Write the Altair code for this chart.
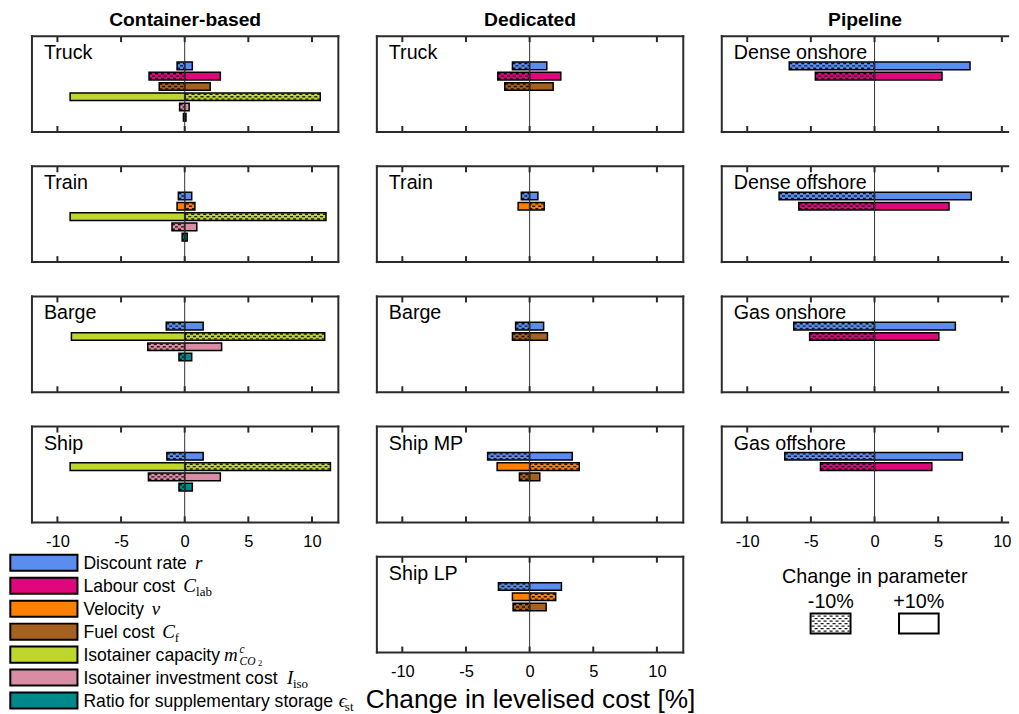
import altair as alt
import pandas as pd

# ---------------- data ----------------
PARAM_KEYS = ["r", "lab", "v", "f", "m", "iso", "eps"]
PARAM_NAMES = ["Discount rate", "Labour cost", "Velocity", "Fuel cost",
               "Isotainer capacity", "Isotainer investment cost",
               "Ratio for supplementary storage"]
PARAM_COLORS = ["#5B8DEF", "#E0077D", "#FF8000", "#A5611F", "#BFD62F", "#D98CA3", "#00898B"]

TICKS = [-10, -5, 0, 5, 10]
COLUMN_TITLES = ["Container-based", "Dedicated", "Pipeline"]
AXIS_TITLE = "Change in levelised cost [%]"

# Container-based  (minus = effect of -10% change, plus = effect of +10% change)
CB_LABELS = ["Truck", "Train", "Barge", "Ship"]
CB_PARAMS = [["r", "lab", "f", "m", "iso", "eps"],
             ["r", "v", "m", "iso", "eps"],
             ["r", "m", "iso", "eps"],
             ["r", "m", "iso", "eps"]]
CB_MINUS = [[-0.6, -2.8, -2.0, 10.65, -0.4, -0.1],
            [-0.5, 0.8, 11.1, -1.0, -0.2],
            [-1.45, 11.0, -2.9, -0.45],
            [-1.4, 11.45, -2.85, -0.45]]
CB_PLUS = [[0.6, 2.8, 2.0, -9.0, 0.35, 0.1],
           [0.55, -0.6, -9.0, 0.95, 0.2],
           [1.45, -8.9, 2.9, 0.55],
           [1.45, -9.0, 2.8, 0.6]]

# Dedicated
DE_LABELS = ["Truck", "Train", "Barge", "Ship MP", "Ship LP"]
DE_PARAMS = [["r", "lab", "f"], ["r", "v"], ["r", "f"], ["r", "v", "f"], ["r", "v", "f"]]
DE_MINUS = [[-1.35, -2.5, -1.95], [-0.65, 1.15], [-1.1, -1.35], [-3.3, 3.9, -0.8], [-2.45, 2.05, -1.3]]
DE_PLUS = [[1.35, 2.45, 1.85], [0.65, -0.9], [1.1, 1.4], [3.35, -2.55, 0.8], [2.5, -1.35, 1.3]]

# Pipeline
PL_LABELS = ["Dense onshore", "Dense offshore", "Gas onshore", "Gas offshore"]
PL_PARAMS = [["r", "lab"], ["r", "lab"], ["r", "lab"], ["r", "lab"]]
PL_MINUS = [[-6.7, -4.65], [-7.5, -5.95], [-6.35, -5.1], [-7.05, -4.25]]
PL_PLUS = [[7.5, 5.3], [7.6, 5.85], [6.35, 5.05], [6.9, 4.5]]

# legend math symbols (row, text, style)
SYM_ROW = [0, 1, 1, 2, 3, 3, 4, 4, 4, 4, 5, 5, 6, 6]
SYM_TEXT = ["r", "C", "lab", "v", "C", "f", "m", "c", "CO", "2", "I", "iso", "\u03f5", "st"]
SYM_STYLE = ["it", "it", "sub", "it", "it", "sub", "it", "sup", "subit", "subsub", "it", "sub", "it", "sub"]

CHANGE_TITLE = "Change in parameter"
CHANGE_LABELS = ["-10%", "+10%"]

# ---------------- layout ----------------
FONT = "Liberation Sans"
SERIF = "Liberation Serif"
PANEL_H = 96
COL_DOMAIN = [[-12, 12.07], [-12, 12.07], [-12, 10.5]]
COL_WIDTH = [307, 307, 287]
SYM_X = [163.3, 151.6, 164.5, 120, 130.6, 143.0, 192.5, 208.0, 208.0, 226.5, 255.6, 261.5, 307.5, 313.5]
FRAME = "#2b2b2b"

cscale = alt.Scale(domain=PARAM_KEYS, range=PARAM_COLORS)
one = pd.DataFrame({"a": [0]})

HATCH_ROWS = [(-2.4, 0), (0, 3), (2.4, 0)]


def make_panel(label, params, minus, plus, col, bottom=False, axis_title=None, title=None):
    n = len(params)
    width = COL_WIDTH[col]
    xscale = alt.Scale(domain=COL_DOMAIN[col], nice=False, zero=False)
    yscale = alt.Scale(domain=[0, 6], range=[29.8, 91.6])
    if bottom:
        axis = alt.Axis(values=TICKS, ticks=False, tickSize=0, domain=False, grid=False,
                        labelFontSize=16.5, labelPadding=11, labelColor="black", labelFont=FONT,
                        labelExpr="'' + datum.value", title=axis_title,
                        titleFontSize=26.3, titleFontWeight="normal", titleColor="black",
                        titleFont=FONT, titlePadding=7)
    else:
        axis = None

    df = pd.DataFrame({
        "param": params + params,
        "value": minus + plus,
        "side": ["minus"] * n + ["plus"] * n,
        "row": list(range(n)) * 2,
    })
    df["y0"] = df["row"] - 0.37
    df["y1"] = df["row"] + 0.37
    df["base"] = 0.0
    hatch_df = df[df["side"] == "minus"]

    bars = alt.Chart(df).mark_bar(stroke="black", strokeWidth=1.5).encode(
        x=alt.X("value:Q", scale=xscale, axis=axis),
        x2="base:Q",
        y=alt.Y("y0:Q", scale=yscale, axis=None),
        y2="y1:Q",
        color=alt.Color("param:N", scale=cscale, legend=None),
    )
    hatches = []
    for off, dash_off in HATCH_ROWS:
        hatches.append(alt.Chart(hatch_df).mark_rule(
            yOffset=off, strokeDash=[3, 3], strokeDashOffset=dash_off,
            color="black", strokeWidth=1.4, opacity=0.85).encode(
            x=alt.X("value:Q", scale=xscale, axis=axis),
            x2="base:Q",
            y=alt.Y("row:Q", scale=yscale, axis=None),
        ))
    zero = alt.Chart(pd.DataFrame({"x": [0]})).mark_rule(color="#333", strokeWidth=1).encode(
        x=alt.X("x:Q", scale=xscale, axis=axis))
    tdf = pd.DataFrame({"x": TICKS})
    ticks_top = alt.Chart(tdf).mark_rule(color=FRAME, strokeWidth=2).encode(
        x=alt.X("x:Q", scale=xscale, axis=axis), y=alt.value(0), y2=alt.value(6))
    ticks_bot = alt.Chart(tdf).mark_rule(color=FRAME, strokeWidth=2).encode(
        x=alt.X("x:Q", scale=xscale, axis=axis), y=alt.value(PANEL_H - 6), y2=alt.value(PANEL_H))
    frame = [
        alt.Chart(one).mark_rule(color=FRAME, strokeWidth=2, strokeCap="square").encode(
            x=alt.value(0), x2=alt.value(width), y=alt.value(0)),
        alt.Chart(one).mark_rule(color=FRAME, strokeWidth=2, strokeCap="square").encode(
            x=alt.value(0), x2=alt.value(width), y=alt.value(PANEL_H)),
        alt.Chart(one).mark_rule(color=FRAME, strokeWidth=2, strokeCap="square").encode(
            x=alt.value(0), y=alt.value(0), y2=alt.value(PANEL_H)),
    ]
    if col != 2:
        frame.append(alt.Chart(one).mark_rule(color=FRAME, strokeWidth=2, strokeCap="square").encode(
            x=alt.value(width), y=alt.value(0), y2=alt.value(PANEL_H)))
    text = alt.Chart(pd.DataFrame({"label": [label]})).mark_text(
        align="left", baseline="alphabetic", fontSize=19.7, font=FONT, color="black").encode(
        x=alt.value(12), y=alt.value(23), text="label:N")

    ch = alt.layer(bars, *hatches, zero, ticks_top, ticks_bot, *frame, text).properties(
        width=width, height=PANEL_H)
    if title:
        ch = ch.properties(title=alt.TitleParams(text=title, fontSize=19.3, fontWeight="bold",
                                                 font=FONT, color="black", offset=4, anchor="middle"))
    return ch


# ---------------- param legend (col 1) ----------------
leg_df = pd.DataFrame({"key": PARAM_KEYS, "name": PARAM_NAMES, "idx": list(range(7))})
leg_df["y0"] = leg_df["idx"] - 0.35
leg_df["y1"] = leg_df["idx"] + 0.35
lscale = alt.Scale(domain=[0, 6], range=[6.1, 144.1])
sym_df = pd.DataFrame({"idx": SYM_ROW, "t": SYM_TEXT, "style": SYM_STYLE, "sx": SYM_X})

swatch = alt.Chart(leg_df).mark_rect(stroke="black", strokeWidth=2).encode(
    x=alt.value(-21.7), x2=alt.value(45.6),
    y=alt.Y("y0:Q", scale=lscale, axis=None), y2="y1:Q",
    color=alt.Color("key:N", scale=cscale, legend=None))
names = alt.Chart(leg_df).mark_text(align="left", baseline="alphabetic", dy=6, fontSize=17.6,
                                    font=FONT, color="black").encode(
    x=alt.value(51.6), y=alt.Y("idx:Q", scale=lscale, axis=None), text="name:N")
sym_layers = []
for style, size, dy, italic in [("it", 19, 6, True), ("sub", 13, 10, False),
                                ("subit", 11.5, 10, True), ("sup", 11.5, -2, True),
                                ("subsub", 8.5, 11.5, False)]:
    kw = dict(align="left", baseline="alphabetic", dy=dy, fontSize=size, font=SERIF, color="black")
    if italic:
        kw["fontStyle"] = "italic"
    sym_layers.append(alt.Chart(sym_df).transform_filter(alt.datum.style == style).mark_text(**kw).encode(
        x=alt.X("sx:Q", scale=None), y=alt.Y("idx:Q", scale=lscale, axis=None), text="t:N"))
legend1 = alt.layer(swatch, names, *sym_layers).properties(width=COL_WIDTH[0], height=148)

# ---------------- change legend (col 3) ----------------
ctitle = alt.Chart(pd.DataFrame({"t": [CHANGE_TITLE]})).mark_text(
    align="center", baseline="middle", fontSize=19.8, font=FONT, color="black").encode(
    x=alt.value(153.3), y=alt.value(20), text="t:N")
clab_m = alt.Chart(pd.DataFrame({"t": [CHANGE_LABELS[0]]})).mark_text(
    align="center", baseline="middle", fontSize=19.8, font=FONT, color="black").encode(
    x=alt.value(109.3), y=alt.value(45), text="t:N")
clab_p = alt.Chart(pd.DataFrame({"t": [CHANGE_LABELS[1]]})).mark_text(
    align="center", baseline="middle", fontSize=19.8, font=FONT, color="black").encode(
    x=alt.value(197.3), y=alt.value(45), text="t:N")
box_m = alt.Chart(one).mark_rect(fill="white", stroke="black", strokeWidth=2).encode(
    x=alt.value(89), x2=alt.value(129), y=alt.value(57), y2=alt.value(77))
box_p = alt.Chart(one).mark_rect(fill="white", stroke="black", strokeWidth=2).encode(
    x=alt.value(177.6), x2=alt.value(217.3), y=alt.value(57), y2=alt.value(77))
hatch_lines = []
for i, yy in enumerate([59.5, 62, 64.5, 67, 69.5, 72, 74.5]):
    hatch_lines.append(alt.Chart(one).mark_rule(
        strokeDash=[3, 3], strokeDashOffset=3 * (i % 2), color="black", strokeWidth=1.3, opacity=0.9).encode(
        x=alt.value(90), x2=alt.value(128), y=alt.value(yy)))
legend3 = alt.layer(box_m, *hatch_lines, box_p, ctitle, clab_m, clab_p).properties(
    width=COL_WIDTH[2], height=100)

# ---------------- assemble (3-column grid) ----------------
col1 = [make_panel(CB_LABELS[i], CB_PARAMS[i], CB_MINUS[i], CB_PLUS[i], 0,
                   bottom=(i == 3), title=COLUMN_TITLES[0] if i == 0 else None) for i in range(4)]
col2 = [make_panel(DE_LABELS[i], DE_PARAMS[i], DE_MINUS[i], DE_PLUS[i], 1,
                   bottom=(i == 4), axis_title=AXIS_TITLE if i == 4 else None,
                   title=COLUMN_TITLES[1] if i == 0 else None) for i in range(5)]
col3 = [make_panel(PL_LABELS[i], PL_PARAMS[i], PL_MINUS[i], PL_PLUS[i], 2,
                   bottom=(i == 3), title=COLUMN_TITLES[2] if i == 0 else None) for i in range(4)]

cells = []
for i in range(4):
    cells += [col1[i], col2[i], col3[i]]
cells += [legend1, col2[4], legend3]

chart = alt.concat(*cells, columns=3, spacing={"row": 34.4, "column": 38.6}, bounds="flush").properties(
    padding={"left": 1, "top": 2.5, "right": 0, "bottom": 0}
).configure(font=FONT, background="white").configure_view(stroke=None)

chart.save("out.html", embed_options={"renderer": "svg", "actions": False})
